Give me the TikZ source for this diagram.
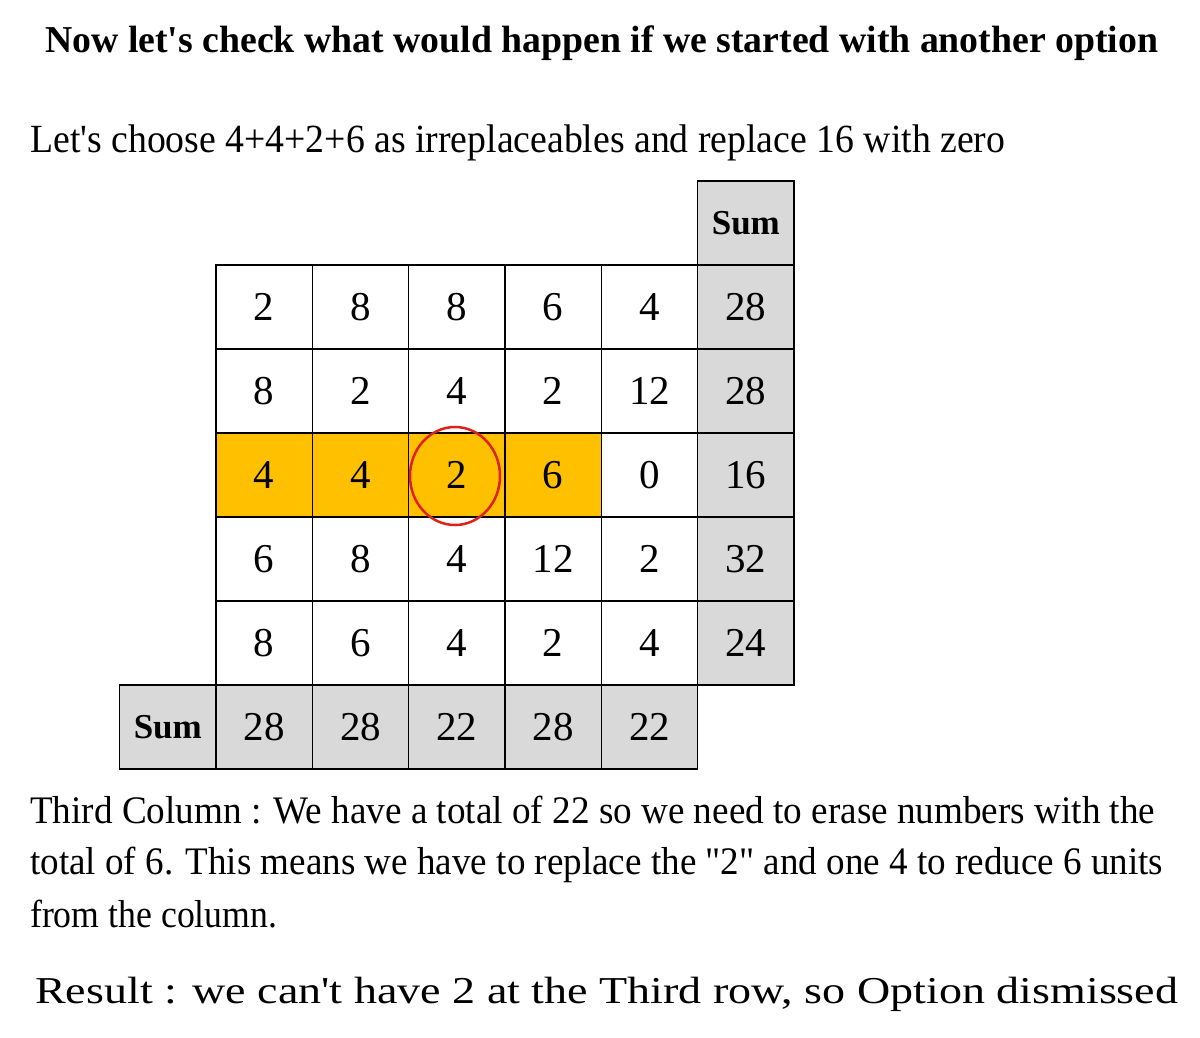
\documentclass[tikz,border=0pt]{standalone}
\usepackage{fontspec}
\setmainfont{Liberation Serif}[Ligatures=TeXOff]
\usepackage{graphicx}
\definecolor{hl}{HTML}{FFC000}
\definecolor{sumgray}{HTML}{D9D9D9}
\definecolor{ring}{HTML}{E0201B}
\newcommand\fitw[2]{\resizebox{#1}{\height}{#2}}
\begin{document}
\begin{tikzpicture}[x=1pt,y=-1pt,
  cell/.style={draw=black,line width=1.6pt,minimum width=96.33pt,minimum height=84pt,inner sep=0pt,font=\fontsize{41}{43}\selectfont,fill=white},
  sumcell/.style={cell,fill=sumgray},
  hlcell/.style={cell,fill=hl},
  sumlab/.style={sumcell,font=\fontsize{35}{37}\selectfont\bfseries},
  txt/.style={anchor=base west,inner sep=0pt}]
\useasboundingbox (0,0) rectangle (1200,1037);
% title and intro
\node[txt] (title) at (45,52) {\fitw{1113pt}{\fontsize{38}{40}\selectfont\bfseries Now let's check what would happen if we started with another option}};
\node[txt] (intro) at (30,152) {\fitw{975pt}{\fontsize{40}{42}\selectfont Let's choose 4+4+2+6 as irreplaceables and replace 16 with zero}};
% header
\node[sumlab] (hdr) at (745.83,223) {Sum};
% row 1
\node[cell] (c11) at (264.17,307) {2};
\node[cell] (c12) at (360.5,307) {8};
\node[cell] (c13) at (456.83,307) {8};
\node[cell] (c14) at (553.17,307) {6};
\node[cell] (c15) at (649.5,307) {4};
\node[sumcell] (s1) at (745.83,307) {28};
% row 2
\node[cell] (c21) at (264.17,391) {8};
\node[cell] (c22) at (360.5,391) {2};
\node[cell] (c23) at (456.83,391) {4};
\node[cell] (c24) at (553.17,391) {2};
\node[cell] (c25) at (649.5,391) {12};
\node[sumcell] (s2) at (745.83,391) {28};
% row 3
\node[hlcell] (c31) at (264.17,475) {4};
\node[hlcell] (c32) at (360.5,475) {4};
\node[hlcell] (c33) at (456.83,475) {2};
\node[hlcell] (c34) at (553.17,475) {6};
\node[cell] (c35) at (649.5,475) {0};
\node[sumcell] (s3) at (745.83,475) {16};
% row 4
\node[cell] (c41) at (264.17,559) {6};
\node[cell] (c42) at (360.5,559) {8};
\node[cell] (c43) at (456.83,559) {4};
\node[cell] (c44) at (553.17,559) {12};
\node[cell] (c45) at (649.5,559) {2};
\node[sumcell] (s4) at (745.83,559) {32};
% row 5
\node[cell] (c51) at (264.17,643) {8};
\node[cell] (c52) at (360.5,643) {6};
\node[cell] (c53) at (456.83,643) {4};
\node[cell] (c54) at (553.17,643) {2};
\node[cell] (c55) at (649.5,643) {4};
\node[sumcell] (s5) at (745.83,643) {24};
% sum row
\node[sumlab] (slab) at (167.83,727) {Sum};
\node[sumcell] (t1) at (264.17,727) {28};
\node[sumcell] (t2) at (360.5,727) {28};
\node[sumcell] (t3) at (456.83,727) {22};
\node[sumcell] (t4) at (553.17,727) {28};
\node[sumcell] (t5) at (649.5,727) {22};
% ring
\draw[ring,line width=2.5pt] (455,476) ellipse [x radius=45pt,y radius=49pt];
% explanation
\node[txt] (l1) at (30,823) {\fitw{1125pt}{\fontsize{39}{41}\selectfont Third Column : We have a total of 22 so we need to erase numbers with the}};
\node[txt] (l2) at (30,874) {\fitw{1133pt}{\fontsize{39}{41}\selectfont total of 6. This means we have to replace the "2" and one 4 to reduce 6 units}};
\node[txt] (l3) at (30,927) {\fitw{247pt}{\fontsize{39}{41}\selectfont from the column.}};
\node[txt] (res) at (35,1003) {\fitw{1143pt}{\fontsize{38}{40}\selectfont Result : we can't have 2 at the Third row, so Option dismissed}};
\end{tikzpicture}
\end{document}
